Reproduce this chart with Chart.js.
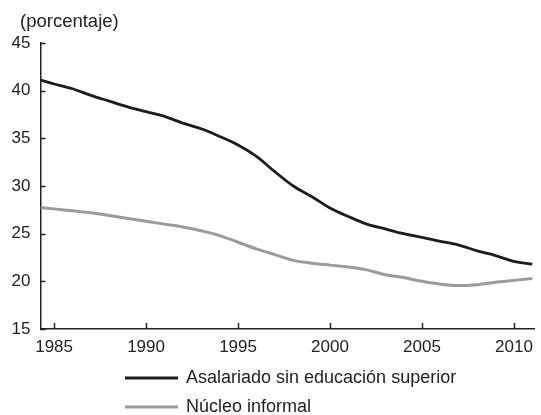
<!DOCTYPE html>
<html>
<head>
<meta charset="utf-8">
<script src="https://cdn.jsdelivr.net/npm/chart.js@4/dist/chart.umd.min.js"></script>
<style>
  html, body { margin: 0; padding: 0; background: #fff; }
  #wrap { position: relative; width: 541px; height: 415px; }
</style>
</head>
<body>
<div id="wrap"><canvas id="chart"></canvas></div>
<script>
// Values
const years = [1984.26, 1985, 1986, 1987, 1988, 1989, 1990, 1991, 1992, 1993, 1994, 1995, 1996, 1997,
    1998, 1999, 2000, 2001, 2002, 2003, 2004, 2005, 2006, 2007, 2008, 2009, 2010, 2011];
const asalariado = [41.1, 40.7, 40.2, 39.5, 38.9, 38.3, 37.8, 37.3, 36.6, 36.0, 35.2, 34.3, 33.1, 31.5,
    30.0, 28.9, 27.7, 26.8, 26.0, 25.5, 25.0, 24.6, 24.2, 23.8, 23.2, 22.7, 22.1, 21.8];
const nucleo = [27.75, 27.6, 27.4, 27.2, 26.9, 26.6, 26.3, 26.0, 25.7, 25.3, 24.8, 24.1, 23.4, 22.8,
    22.2, 21.9, 21.7, 21.5, 21.2, 20.7, 20.4, 20.0, 19.7, 19.55, 19.65, 19.9, 20.1, 20.3];
const seriesLabels = ['Asalariado sin educación superior', 'Núcleo informal'];
const xTickValues = [1985, 1990, 1995, 2000, 2005, 2010];
const yTickValues = [15, 20, 25, 30, 35, 40, 45];
const unitLabel = '(porcentaje)';

const FONT = '"Liberation Sans", Arial, sans-serif';
const INK = '#222';

const toPoints = (vals) => vals.map((v, i) => ({ x: years[i], y: v }));

// Inward tick marks, title above the axis and the stacked legend below
const decorations = {
    id: 'decorations',
    afterDraw(chart) {
        const ctx = chart.ctx;
        const area = chart.chartArea;
        const xs = chart.scales.x;
        const ys = chart.scales.y;
        ctx.save();
        ctx.strokeStyle = INK;
        ctx.lineWidth = 1.5;
        ctx.beginPath();
        yTickValues.forEach(v => {
            const py = Math.round(ys.getPixelForValue(v)) + 0.5;
            ctx.moveTo(area.left, py);
            ctx.lineTo(area.left + 5, py);
        });
        xTickValues.forEach(v => {
            const px = Math.round(xs.getPixelForValue(v)) + 0.5;
            ctx.moveTo(px, area.bottom);
            ctx.lineTo(px, area.bottom - 6);
        });
        ctx.stroke();

        ctx.fillStyle = INK;
        ctx.textBaseline = 'middle';
        ctx.textAlign = 'left';
        ctx.font = '18.5px ' + FONT;
        ctx.fillText(unitLabel, 20, 22);

        ctx.font = '18px ' + FONT;
        chart.data.datasets.forEach((ds, i) => {
            const y = 378 + i * 29;
            ctx.strokeStyle = ds.borderColor;
            ctx.lineWidth = 3;
            ctx.beginPath();
            ctx.moveTo(125, y);
            ctx.lineTo(178, y);
            ctx.stroke();
            ctx.fillStyle = INK;
            ctx.fillText(ds.label, 186, y);
        });
        ctx.restore();
    }
};

new Chart(document.getElementById('chart'), {
    type: 'line',
    data: {
        datasets: [{
            label: seriesLabels[0],
            data: toPoints(asalariado),
            borderColor: '#1c1c1c',
            borderWidth: 2.8,
            pointRadius: 0,
            cubicInterpolationMode: 'monotone'
        }, {
            label: seriesLabels[1],
            data: toPoints(nucleo),
            borderColor: '#9b9b9b',
            borderWidth: 3,
            pointRadius: 0,
            cubicInterpolationMode: 'monotone'
        }]
    },
    options: {
        responsive: true,
        maintainAspectRatio: false,
        animation: false,
        layout: { padding: { top: 43, right: 4, left: 0, bottom: 0 } },
        scales: {
            x: {
                type: 'linear',
                min: 1984.26,
                max: 2011.1,
                afterBuildTicks: (scale) => { scale.ticks = xTickValues.map(v => ({ value: v })); },
                afterFit: (scale) => { scale.height = 86; },
                grid: { display: false, drawTicks: false },
                border: { display: true, color: INK, width: 1.5 },
                ticks: {
                    padding: 8,
                    color: INK,
                    font: { family: FONT, size: 17 },
                    maxRotation: 0,
                    callback: (v) => String(v)
                }
            },
            y: {
                min: 15,
                max: 45,
                afterBuildTicks: (scale) => { scale.ticks = yTickValues.map(v => ({ value: v })); },
                afterFit: (scale) => { scale.width = 40.5; },
                grid: { display: false, drawTicks: false },
                border: { display: true, color: INK, width: 1.5 },
                ticks: {
                    padding: 10,
                    color: INK,
                    font: { family: FONT, size: 17 },
                    callback: (v) => String(v)
                }
            }
        },
        plugins: {
            legend: { display: false },
            tooltip: { enabled: false }
        }
    },
    plugins: [decorations]
});
</script>
</body>
</html>
